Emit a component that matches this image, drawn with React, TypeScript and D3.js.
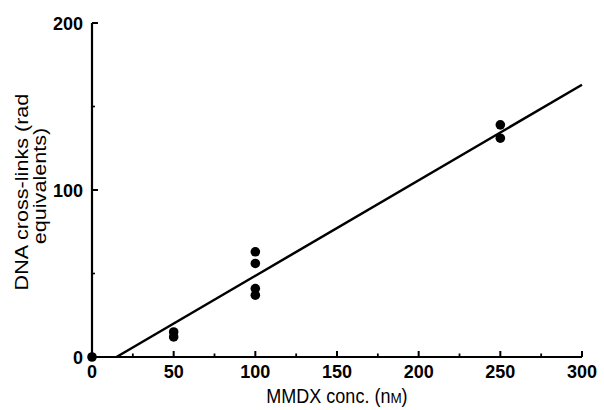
import React from 'react';
import * as d3 from 'd3';

const concs = [0, 50, 50, 100, 100, 100, 100, 250, 250];
const crosslinks = [0, 15, 12, 63, 56, 41, 37, 139, 131];
const fitX = [15, 300];
const fitY = [0, 163];
const xMajor = [0, 50, 100, 150, 200, 250, 300];
const xMinor = [25, 75, 125, 175, 225, 275];
const yMajor = [0, 100, 200];
const yMinor = [50, 150];

const W = 604;
const H = 410;
const margin = { top: 23, right: 22, bottom: 53, left: 92 };

export default function App() {
  const x = d3.scaleLinear().domain([0, 300]).range([margin.left, W - margin.right]);
  const y = d3.scaleLinear().domain([0, 200]).range([H - margin.bottom, margin.top]);
  const line = d3.line<number>().x((d) => x(d)).y((d, i) => y(fitY[i]));
  const font = 'Liberation Sans, Arial, Helvetica, sans-serif';
  const y0 = y(0);

  return (
    <svg width={W} height={H} style={{ position: 'absolute', left: 0, top: 0, background: '#fff' }} fontFamily={font}>
      {/* axes */}
      <line x1={x(0)} x2={x(300)} y1={y0} y2={y0} stroke="#000" strokeWidth={2.2} />
      <line x1={x(0)} x2={x(0)} y1={y(0)} y2={y(200)} stroke="#000" strokeWidth={2.2} />
      {xMajor.filter((d) => d > 0).map((d) => (
        <line key={'xM' + d} x1={x(d)} x2={x(d)} y1={y0} y2={y0 - 6} stroke="#000" strokeWidth={2} />
      ))}
      {xMinor.map((d) => (
        <line key={'xm' + d} x1={x(d)} x2={x(d)} y1={y0} y2={y0 - 3.5} stroke="#000" strokeWidth={1.8} />
      ))}
      {yMajor.filter((d) => d > 0).map((d) => (
        <line key={'yM' + d} x1={x(0)} x2={x(0) + 6} y1={y(d)} y2={y(d)} stroke="#000" strokeWidth={2} />
      ))}
      {yMinor.map((d) => (
        <line key={'ym' + d} x1={x(0)} x2={x(0) + 3} y1={y(d)} y2={y(d)} stroke="#000" strokeWidth={1.6} />
      ))}
      {xMajor.map((d) => (
        <text key={'xl' + d} x={x(d)} y={y0 + 21} textAnchor="middle" fontSize={18} fontWeight="bold">{d}</text>
      ))}
      {yMajor.map((d) => (
        <text key={'yl' + d} x={x(0) - 9} y={y(d) + 6.5} textAnchor="end" fontSize={18} fontWeight="bold">{d}</text>
      ))}
      {/* titles */}
      <g transform="translate(337,403) scale(1,1.12)">
        <text x={0} y={0} textAnchor="middle" fontSize={18}>
          MMDX conc. (n<tspan fontSize={13.5}>M</tspan>)
        </text>
      </g>
      <g transform="translate(0,192) rotate(-90) scale(1.2,1)">
        <text x={0} y={28} textAnchor="middle" fontSize={18}>DNA cross-links (rad</text>
      </g>
      <g transform="translate(0,186) rotate(-90) scale(1.2,1)">
        <text x={0} y={46} textAnchor="middle" fontSize={18}>equivalents)</text>
      </g>
      {/* fit line */}
      <path d={line(fitX) ?? ''} fill="none" stroke="#000" strokeWidth={2.5} />
      {/* points */}
      {concs.map((c, i) => (
        <circle key={'p' + i} cx={x(c)} cy={y(crosslinks[i])} r={4.8} fill="#000" />
      ))}
    </svg>
  );
}
